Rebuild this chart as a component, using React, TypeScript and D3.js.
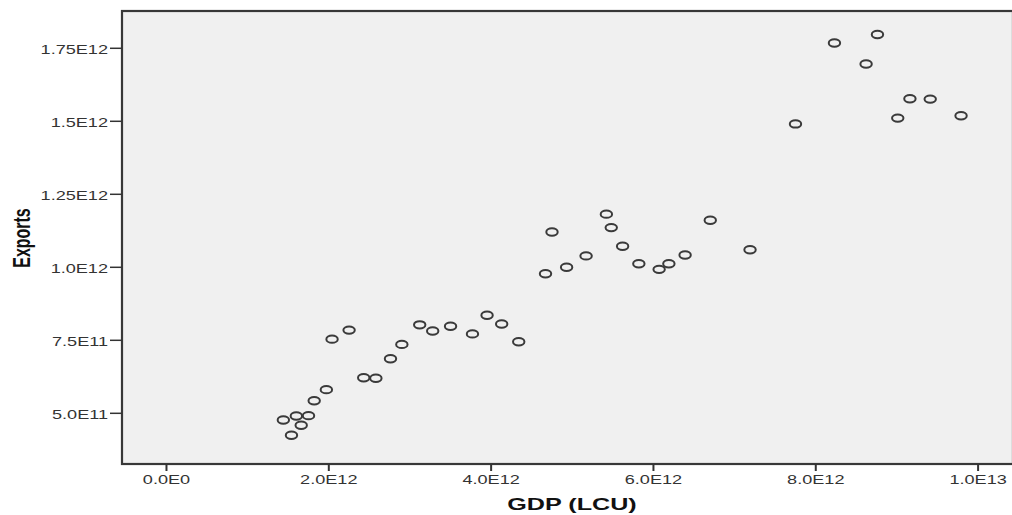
import React from "react";
import * as d3 from "d3";

// GDP (LCU) and Exports, in units of 1E12
const gdp = [
    1.44, 1.60, 1.75, 1.66, 1.54, 1.82, 1.97, 2.04, 2.25, 2.43, 2.58, 2.76, 2.90, 3.12,
    3.28, 3.50, 3.77, 3.95, 4.13, 4.34, 4.67, 4.75, 4.93, 5.17, 5.42, 5.48, 5.62, 5.82,
    6.07, 6.19, 6.39, 6.70, 7.19, 7.75, 8.23, 8.76, 8.62, 9.16, 9.41, 9.01, 9.79
];
const exportsVals = [
    0.477, 0.491, 0.492, 0.459, 0.425, 0.543, 0.581, 0.754, 0.785, 0.622, 0.620, 0.687,
    0.736, 0.803, 0.782, 0.798, 0.772, 0.836, 0.806, 0.745, 0.978, 1.121, 1.000, 1.039,
    1.182, 1.136, 1.072, 1.012, 0.993, 1.012, 1.042, 1.161, 1.060, 1.491, 1.768, 1.797,
    1.696, 1.577, 1.576, 1.511, 1.519
];

const xTicks = [0, 2e12, 4e12, 6e12, 8e12, 1e13];
const xTickLabels = ["0.0E0", "2.0E12", "4.0E12", "6.0E12", "8.0E12", "1.0E13"];
const yTicks = [5e11, 7.5e11, 1e12, 1.25e12, 1.5e12, 1.75e12];
const yTickLabels = ["5.0E11", "7.5E11", "1.0E12", "1.25E12", "1.5E12", "1.75E12"];

const W = 1012;
const H = 515;
const frame = { left: 122, right: 1013, top: 11, bottom: 464 };
const font = "'Liberation Sans', Arial, sans-serif";
const stretch = 1.45; // the picture is widened horizontally

export default function App() {
    const x = d3.scaleLinear().domain([-0.548e12, 10.43e12]).range([frame.left, frame.right]);
    const y = d3.scaleLinear().domain([0.3264e12, 1.8777e12]).range([frame.bottom, frame.top]);

    const points = gdp.map((g, i) => ({ gx: g * 1e12, ey: exportsVals[i] * 1e12 }));

    return (
        <svg width={W} height={H} style={{ position: "absolute", left: 0, top: 0, display: "block", background: "#fff" }}>
            {/* plot area */}
            <rect x={frame.left} y={frame.top} width={frame.right - frame.left} height={frame.bottom - frame.top}
                fill="#f0f0f0" stroke="#383838" strokeWidth={2.2} />

            {/* points */}
            <g>
                {points.map((p, i) => (
                    <ellipse key={i} cx={x(p.gx)} cy={y(p.ey)} rx={5.7} ry={3.7}
                        fill="none" stroke="#3a3a3a" strokeWidth={2} />
                ))}
            </g>

            {/* y axis */}
            <g fontFamily={font} fontSize={12.5} fill="#333">
                {yTicks.map((t, i) => (
                    <g key={i}>
                        <line x1={frame.left - 12} x2={frame.left} y1={y(t)} y2={y(t)} stroke="#333" strokeWidth={1.5} />
                        <text transform={`translate(${frame.left - 14},${y(t) + 5.5}) scale(${stretch},1)`} textAnchor="end">
                            {yTickLabels[i]}
                        </text>
                    </g>
                ))}
            </g>

            {/* x axis */}
            <g fontFamily={font} fontSize={12.5} fill="#333">
                {xTicks.map((t, i) => (
                    <g key={i}>
                        <line x1={x(t)} x2={x(t)} y1={frame.bottom} y2={frame.bottom + 7} stroke="#333" strokeWidth={2} />
                        <text transform={`translate(${x(t)},${frame.bottom + 20}) scale(${stretch},1)`} textAnchor="middle">
                            {xTickLabels[i]}
                        </text>
                    </g>
                ))}
            </g>

            {/* axis titles */}
            <text transform={`translate(572,510) scale(1.48,1)`} textAnchor="middle"
                fontFamily={font} fontSize={17} fontWeight="bold" fill="#111">
                GDP (LCU)
            </text>
            <text transform={`translate(30,238) rotate(-90) scale(1,1.45)`} textAnchor="middle"
                fontFamily={font} fontSize={16} fontWeight="bold" fill="#111">
                Exports
            </text>
        </svg>
    );
}
